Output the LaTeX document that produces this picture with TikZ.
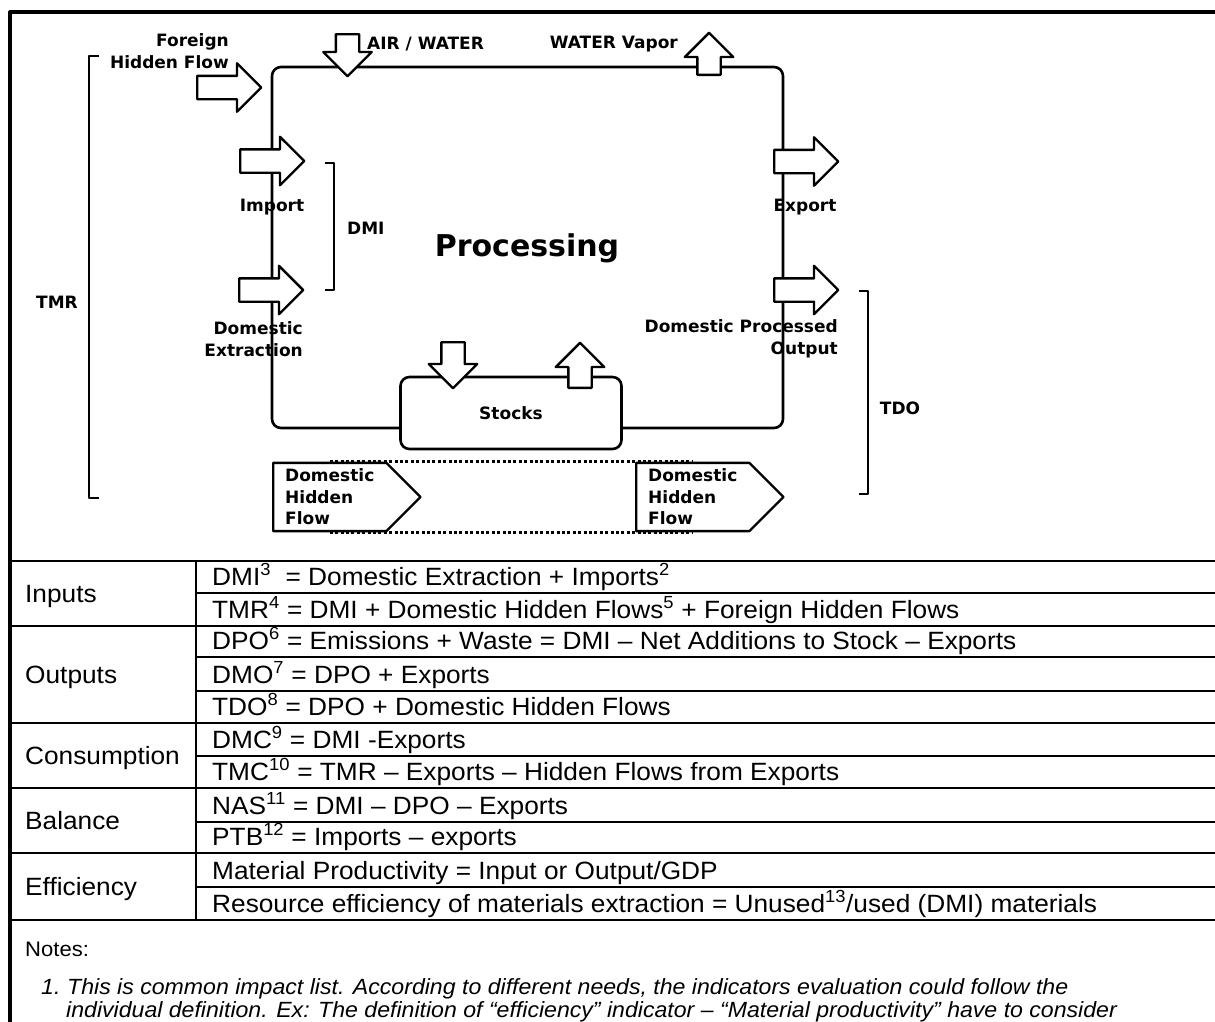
\documentclass[tikz,border=0pt]{standalone}
\usepackage{fontspec}
\setmainfont{Liberation Sans}[FakeStretch=1.05]
\newfontfamily\flowfont{DejaVu Sans}
\usetikzlibrary{shapes.arrows,shapes.symbols}

\tikzset{
  flowlabel/.style={font=\flowfont\bfseries\fontsize{17}{21.5}\selectfont, inner sep=0pt},
  hflow/.style={single arrow, draw, fill=white, line width=2.4pt, inner xsep=0pt, inner ysep=10.5pt, single arrow head extend=12.5pt, minimum height=64pt, anchor=tail},
  vflow/.style={hflow, minimum height=42pt},
  hidflow/.style={signal, signal to=east, draw, fill=white, line width=2.4pt, flowlabel, align=left, inner xsep=12pt, inner ysep=6pt},
  loopline/.style={line width=2.6pt, rounded corners=9pt},
  dotline/.style={line width=3pt, dash pattern=on 3pt off 2.4pt},
  bracket/.style={line width=1.3pt},
  tline/.style={line width=2pt},
  tabtext/.style={anchor=base west, inner sep=0pt, font=\fontsize{25}{30}\selectfont},
  notetext/.style={anchor=base west, inner sep=0pt, font=\itshape\fontsize{22}{26}\selectfont},
}

\begin{document}
\begin{tikzpicture}[x=1pt, y=-1pt, line join=round]
	\useasboundingbox (0,0) rectangle (1215,1021);
	\clip (0,0) rectangle (1215,1021);
	\fill[white] (0,0) rectangle (1215,1021);
	% outer frame
	\draw[line width=3.2pt] (10,1040) -- (10,12) -- (1240,12);

	% processing loop
	\node[draw, line width=2.6pt, rounded corners=9pt, minimum width=221pt, minimum height=72pt, flowlabel] (stocks) at (511,413) {Stocks};
	\draw[loopline] ([yshift=-15pt]stocks.west) -| (272,67) -| (783,428) -- ([yshift=-15pt]stocks.east);
	\node[flowlabel, font=\flowfont\bfseries\fontsize{30}{36}\selectfont] (proc) at (527,248) {Processing};

	% inflows (placed by their tails)
	\node[hflow] (foreign) at (196,87.5) {};
	\node[hflow] (import) at (239,161) {};
	\node[hflow] (extract) at (238,290) {};
	\node[vflow, rotate=-90] (air) at (347.5,33) {};
	% outflows
	\node[vflow, rotate=90] (vapor) at (709,76) {};
	\node[hflow] (export) at (773,161.5) {};
	\node[hflow] (dpo) at (773,290) {};
	% stocks
	\node[vflow, minimum height=46pt, rotate=-90] (tostock) at (453,341) {};
	\node[vflow, minimum height=45pt, rotate=90] (fromstock) at (580,389) {};

	% hidden flows
	\node[hidflow, anchor=west] (dhfa) at (272,497) {Domestic\\Hidden\\Flow};
	\node[hidflow, anchor=west] (dhfb) at (635,497) {Domestic\\Hidden\\Flow};
	\draw[dotline] (dhfa.north) -- (dhfb.north);
	\draw[dotline] (dhfa.south) -- (dhfb.south);

	% labels
	\node[flowlabel, align=right, anchor=east] (lforeign) at (229,51) {Foreign\\Hidden Flow};
	\node[flowlabel, anchor=west] (lair) at (367,44) {AIR / WATER};
	\node[flowlabel, anchor=east] (lvapor) at (678,44) {WATER Vapor};
	\node[flowlabel] (limport) at (272,207) {Import};
	\node[flowlabel, align=right, anchor=east] (lextract) at (303,339) {Domestic\\Extraction};
	\node[flowlabel] (lexport) at (805,207) {Export};
	\node[flowlabel, align=right, anchor=east] (ldpo) at (838,339) {Domestic Processed\\Output};

	% brackets
	\draw[bracket] (99,56) -- (89,56) -- (89,498) -- (99,498);
	\node[flowlabel] (tmr) at (57,302) {TMR};
	\draw[bracket] (325,163) -- (334,163) -- (334,290) -- (325,290);
	\node[flowlabel, anchor=west] (dmi) at (347,228) {DMI};
	\draw[bracket] (859,291) -- (868,291) -- (868,494) -- (859,494);
	\node[flowlabel] (tdo) at (900,408) {TDO};

	% indicator table
	\draw[tline] (10,561) -- (1240,561);
	\draw[tline] (196,593) -- (1240,593);
	\draw[tline] (10,626) -- (1240,626);
	\draw[tline] (196,657) -- (1240,657);
	\draw[tline] (196,691) -- (1240,691);
	\draw[tline] (10,723) -- (1240,723);
	\draw[tline] (196,756) -- (1240,756);
	\draw[tline] (10,788) -- (1240,788);
	\draw[tline] (196,822) -- (1240,822);
	\draw[tline] (10,853) -- (1240,853);
	\draw[tline] (196,887) -- (1240,887);
	\draw[tline] (10,920) -- (1240,920);
	\draw[tline] (196,561) -- (196,920);

	\node[tabtext] (ginputs) at (25,602) {Inputs};
	\node[tabtext] (goutputs) at (25,683) {Outputs};
	\node[tabtext] (gcons) at (25,764) {Consumption};
	\node[tabtext] (gbal) at (25,829) {Balance};
	\node[tabtext] (geff) at (25,895) {Efficiency};

	\node[tabtext] (rdmi) at (212,585) {DMI\textsuperscript{3}\ \ = Domestic Extraction + Imports\textsuperscript{2}};
	\node[tabtext] (rtmr) at (212,618) {TMR\textsuperscript{4} = DMI + Domestic Hidden Flows\textsuperscript{5} + Foreign Hidden Flows};
	\node[tabtext] (rdpo) at (212,649) {DPO\textsuperscript{6} = Emissions + Waste = DMI – Net Additions to Stock – Exports};
	\node[tabtext] (rdmo) at (212,683) {DMO\textsuperscript{7} = DPO + Exports};
	\node[tabtext] (rtdo) at (212,715) {TDO\textsuperscript{8} = DPO + Domestic Hidden Flows};
	\node[tabtext] (rdmc) at (212,748) {DMC\textsuperscript{9} = DMI -Exports};
	\node[tabtext] (rtmc) at (212,780) {TMC\textsuperscript{10} = TMR – Exports – Hidden Flows from Exports};
	\node[tabtext] (rnas) at (212,814) {NAS\textsuperscript{11} = DMI – DPO – Exports};
	\node[tabtext] (rptb) at (212,845) {PTB\textsuperscript{12} = Imports – exports};
	\node[tabtext] (rmp) at (212,879) {Material Productivity = Input or Output/GDP};
	\node[tabtext] (rre) at (212,912) {Resource efficiency of materials extraction = Unused\textsuperscript{13}/used (DMI) materials};

	% notes
	\node[tabtext, font=\fontsize{21}{26}\selectfont] (notes) at (25,956) {Notes:};
	\node[notetext] (n1num) at (41,994) {1.};
	\node[notetext] (n1a) at (67,994) {This is common impact list. According to different needs, the indicators evaluation could follow the};
	\node[notetext] (n1b) at (66,1017) {individual definition. Ex: The definition of “efficiency” indicator – “Material productivity” have to consider};
\end{tikzpicture}
\end{document}
